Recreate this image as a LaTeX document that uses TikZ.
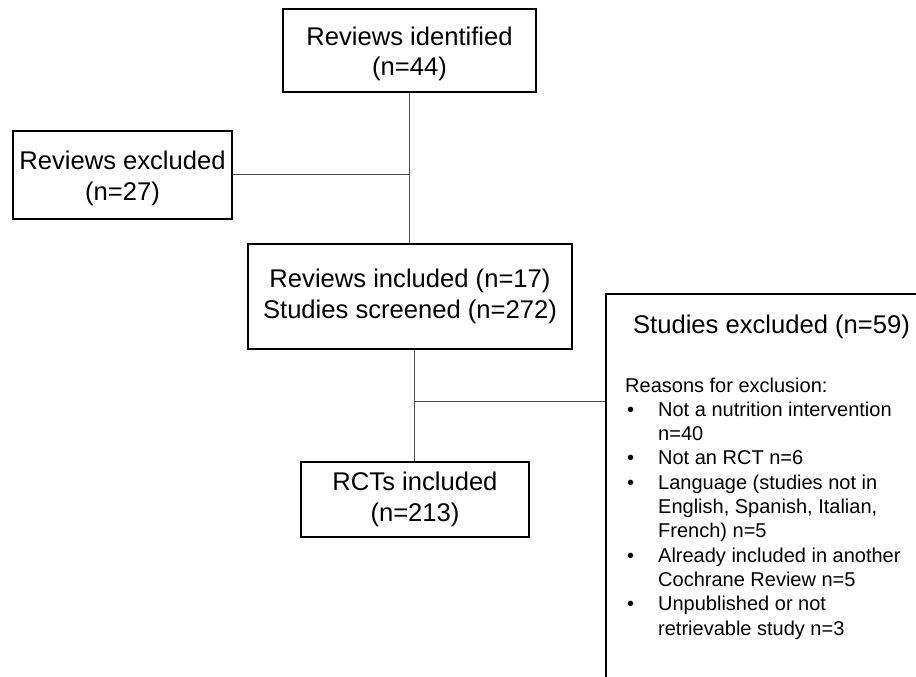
\documentclass[tikz,border=0pt]{standalone}
\usepackage{fontspec}
\setmainfont{Liberation Sans}
\newcommand{\lowerby}[2]{\raisebox{-#1}[\height][\depth]{\begin{tabular}{@{}c@{}}#2\end{tabular}}}
\begin{document}
\begin{tikzpicture}[x=1pt,y=-1pt,
  box/.style={draw=black, line width=1.8pt, fill=white, align=center, inner sep=0pt,
    font=\fontsize{25.6}{30.5}\selectfont},
  conn/.style={draw=black!70, line width=0.9pt}]
\useasboundingbox (0,0) rectangle (916,677);
\clip (0,0) rectangle (916,677);
\fill[white] (0,0) rectangle (916,677);
\coordinate (j1) at (409.5,174);
\coordinate (j2) at (414,401);
% boxes
\node[box, minimum width=253pt, minimum height=83pt] (ident) at (409.5,50.5) {\lowerby{4pt}{Reviews identified\\(n=44)}};
\node[box, minimum width=219pt, minimum height=88pt] (excl) at (122.5,175) {\lowerby{4pt}{Reviews excluded\\(n=27)}};
\node[box, minimum width=324pt, minimum height=105pt] (incl) at (410,296.5) {Reviews included (n=17)\\Studies screened (n=272)};
\node[box, minimum width=228pt, minimum height=75pt] (rct) at (415,499.5) {RCTs included\\(n=213)};
\node[box, anchor=north west, minimum width=333pt, minimum height=430pt] (sx) at (605,293) {};
% texts of the right box
\node[font=\fontsize{25.6}{30.5}\selectfont, inner sep=0pt] (sxt) at (771.5,327) {Studies excluded (n=59)};
\node[anchor=base west, inner sep=0pt, font=\fontsize{20}{24.3}\selectfont] (sxl) at (625,392) {%
\begin{tabular}[t]{@{}p{33pt}@{}l@{}}
\multicolumn{2}{@{}l@{}}{Reasons for exclusion:}\\
\hspace{2pt}\textbullet & Not a nutrition intervention\\
 & n=40\\
\hspace{2pt}\textbullet & Not an RCT n=6\\
\hspace{2pt}\textbullet & Language (studies not in\\
 & English, Spanish, Italian,\\
 & French) n=5\\
\hspace{2pt}\textbullet & Already included in another\\
 & Cochrane Review n=5\\
\hspace{2pt}\textbullet & Unpublished or not\\
 & retrievable study n=3
\end{tabular}};
% connectors
\draw[conn] (ident.south) -- (ident.south |- incl.north);
\draw[conn] (excl.east |- j1) -- (j1);
\draw[conn] (incl.south -| j2) -- (rct.north -| j2);
\draw[conn] (j2) -- (j2 -| sx.west);
\end{tikzpicture}
\end{document}
